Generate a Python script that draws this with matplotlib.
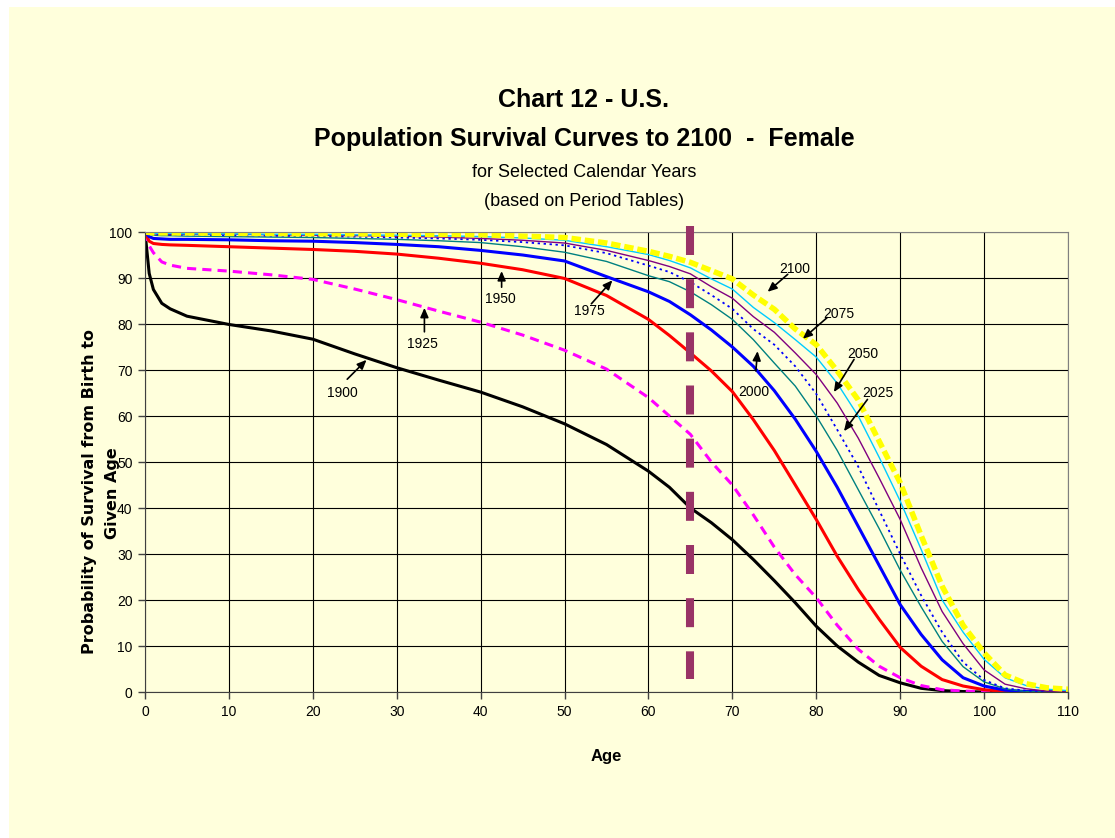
import matplotlib
matplotlib.use('Agg')
import matplotlib.pyplot as plt
from matplotlib.patches import Rectangle

plt.rcParams['font.family'] = ['Liberation Sans', 'DejaVu Sans']

# survival (per 100 born)
ages = [0, 0.5, 1, 2, 3, 5, 10, 15, 20, 25, 30, 35, 40, 45, 50, 55,
        60, 62.5, 65, 67.5, 70, 72.5, 75, 77.5, 80, 82.5, 85, 87.5,
        90, 92.5, 95, 97.5, 100, 102.5, 105, 107.5, 110]

s1900 = [100, 91, 87.5, 84.5, 83.3, 81.7, 79.9, 78.5, 76.7, 73.5, 70.5, 67.8, 65.2, 62, 58.3, 53.8,
         48, 44.5, 40, 36.8, 33.1, 28.8, 24.2, 19.4, 14.3, 10, 6.5, 3.6,
         2, 0.8, 0.3, 0.1, 0, 0, 0, 0, 0]
s1925 = [100, 97, 95.5, 93.5, 92.8, 92.1, 91.5, 90.7, 89.7, 87.6, 85.3, 82.8, 80.4, 77.6, 74.3, 70.2,
         64, 60, 56, 50, 45, 38.5, 31.5, 25.5, 20.5, 14.5, 9.3, 5.6,
         3.1, 1.4, 0.5, 0.2, 0.1, 0, 0, 0, 0]
s1950 = [100, 98, 97.5, 97.3, 97.2, 97.1, 96.8, 96.5, 96.2, 95.8, 95.2, 94.3, 93.2, 91.8, 89.9, 86.2,
         81, 77.5, 73.7, 69.8, 65.3, 59.2, 52.5, 45, 37.5, 29.5, 22.3, 15.8,
         9.7, 5.6, 2.7, 1.3, 0.5, 0.1, 0, 0, 0]
s1975 = [100, 99, 98.6, 98.5, 98.4, 98.4, 98.3, 98.1, 98.0, 97.7, 97.3, 96.8, 96.0, 95.0, 93.7, 90.3,
         87, 84.9, 82, 78.7, 75, 70.8, 65.5, 59.3, 52.3, 44.5, 36, 27.5,
         19, 12.5, 7, 3.1, 1.3, 0.4, 0.1, 0, 0]
s2000 = [100, 99.5, 99.3, 99.2, 99.2, 99.1, 99.0, 98.9, 98.8, 98.6, 98.4, 98.1, 97.7, 96.8, 95.6, 93.6,
         90.5, 89.2, 87, 84.2, 81, 76.6, 71.5, 66.5, 60, 52.5, 44, 35.5,
         26.5, 18.5, 11, 5.5, 2.2, 0.7, 0.1, 0, 0]
s2025 = [100, 99.6, 99.5, 99.5, 99.4, 99.4, 99.3, 99.2, 99.1, 99.0, 98.8, 98.6, 98.3, 97.8, 97.1, 95.4,
         92.7, 91.3, 89.1, 86.3, 83.3, 78.9, 75.5, 70.8, 64.8, 57, 49, 39.5,
         30, 21, 13, 6.5, 2.6, 0.8, 0.3, 0.1, 0]
s2050 = [100, 99.7, 99.6, 99.6, 99.5, 99.5, 99.5, 99.4, 99.3, 99.2, 99.1, 98.9, 98.6, 98.2, 97.6, 96.0,
         93.8, 92.5, 90.9, 88.1, 85.6, 81.6, 78.2, 73.7, 69, 62.8, 55.2, 46.5,
         37.5, 27, 17.5, 10.5, 4.8, 1.7, 0.7, 0.2, 0.1]
s2075 = [100, 99.8, 99.7, 99.7, 99.7, 99.6, 99.6, 99.5, 99.5, 99.4, 99.3, 99.2, 99.0, 98.7, 98.2, 96.8,
         95.1, 93.8, 92.2, 89.8, 87.6, 83.6, 80.3, 76.6, 72.8, 67.1, 60, 51,
         41.5, 31, 20, 13, 7.1, 3.1, 1.4, 0.6, 0.3]
s2100 = [100, 99.9, 99.8, 99.8, 99.8, 99.8, 99.7, 99.7, 99.6, 99.6, 99.5, 99.5, 99.4, 99.1, 98.8, 97.6,
         95.8, 94.7, 93.4, 91.6, 89.8, 86.3, 83.2, 78.9, 75.5, 69.8, 63.5, 54.5,
         45.5, 34, 23, 14.5, 8.5, 3.7, 1.8, 0.9, 0.6]

# year labels: text position, arrow tail, arrow head (age, percent)
labels = ['1900', '1925', '1950', '1975', '2000', '2025', '2050', '2075', '2100']
label_xy = [(23.5, 65.1), (33.1, 75.7), (42.4, 85.5), (52.9, 82.8), (72.5, 65.2),
            (87.3, 65.1), (85.6, 73.4), (82.7, 82.1), (77.4, 91.9)]
arrow_from = [(24.1, 68.0), (33.3, 78.3), (42.5, 88.0), (53.2, 84.4), (72.8, 69.8),
              (86.1, 63.6), (84.5, 72.3), (81.3, 81.4), (76.6, 90.8)]
arrow_to = [(26.4, 72.2), (33.3, 83.5), (42.5, 91.5), (55.7, 89.5), (73.0, 74.1),
            (83.3, 56.7), (82.1, 65.2), (78.4, 76.8), (74.2, 87.0)]

bg = '#FFFFDC'

fig = plt.figure(figsize=(11.15, 8.38), dpi=100)
fig.patch.set_facecolor('white')
fig.patches.append(Rectangle((9 / 1115, 0), 1, 1 - 7 / 838, transform=fig.transFigure,
                             facecolor=bg, edgecolor='none', zorder=-10))

ax = fig.add_axes([145 / 1115, 1 - 692 / 838, (1068 - 145) / 1115, (692 - 232) / 838])
ax.set_facecolor(bg)

ax.plot(ages, s1900, color='black', lw=2.2)
ax.plot(ages, s1925, color='#FF00FF', lw=2.2, dashes=(3, 2))
ax.plot(ages, s1950, color='#FF0000', lw=2.2)
ax.plot(ages, s1975, color='#0000FF', lw=2.2)
ax.plot(ages, s2000, color='#008080', lw=1.0)
ax.plot(ages, s2025, color='#0000FF', lw=1.3, dashes=(1.3, 2))
ax.plot(ages, s2050, color='#800080', lw=1.0)
ax.plot(ages, s2075, color='#00CCFF', lw=1.0)
ax.plot(ages, s2100, color='#FFFF00', lw=4.0, dashes=(1.7, 0.7))

# age 65 marker
ax.plot([65, 65], [101.3, 2.8], color='#993366', lw=5.8, dashes=(3.6, 3.0), clip_on=False, zorder=5)

for lab, t, a, b in zip(labels, label_xy, arrow_from, arrow_to):
    ax.text(t[0], t[1], lab, fontsize=10, ha='center', va='center', zorder=6)
    ax.annotate('', xy=b, xytext=a, zorder=6,
                arrowprops=dict(arrowstyle='-|>,head_length=0.5,head_width=0.22', color='black',
                                lw=1.2, mutation_scale=11, shrinkA=0, shrinkB=0))

ax.set_xlim(0, 110)
ax.set_ylim(0, 100)
ax.set_xticks(range(0, 111, 10))
ax.set_yticks(range(0, 101, 10))
ax.tick_params(labelsize=10, length=5, width=1, color='#404040', pad=4)
ax.grid(True, color='black', lw=0.8)
ax.set_axisbelow(True)
for s in ['left', 'bottom']:
    ax.spines[s].set_color('#404040')
for s in ['top', 'right']:
    ax.spines[s].set_color('#808080')

ax.set_xlabel('Age', fontsize=12, fontweight='bold', labelpad=22)

fig.text(90 / 1115, 1 - 492 / 838, 'Probability of Survival from Birth to', rotation=90,
         fontsize=11.5, fontweight='bold', family='DejaVu Sans', ha='center', va='center')
fig.text(112 / 1115, 1 - 493 / 838, 'Given Age', rotation=90,
         fontsize=11.5, fontweight='bold', family='DejaVu Sans', ha='center', va='center')

cx = 584 / 1115
fig.text(cx, 1 - 100 / 838, 'Chart 12 - U.S.', fontsize=18, fontweight='bold', ha='center', va='center')
fig.text(cx, 1 - 139 / 838, 'Population Survival Curves to 2100  -  Female', fontsize=18,
         fontweight='bold', ha='center', va='center')
fig.text(cx, 1 - 172 / 838, 'for Selected Calendar Years', fontsize=13, ha='center', va='center')
fig.text(cx, 1 - 201 / 838, '(based on Period Tables)', fontsize=13, ha='center', va='center')

plt.savefig('out.png', dpi=100, facecolor=fig.get_facecolor())
